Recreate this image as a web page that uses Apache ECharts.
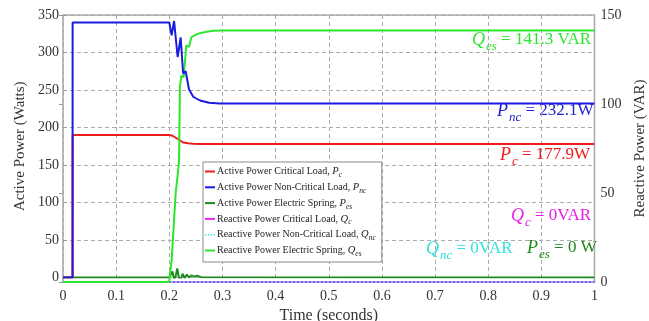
<!DOCTYPE html>
<html>
<head>
<meta charset="utf-8">
<script src="https://cdn.jsdelivr.net/npm/echarts@6/dist/echarts.min.js"></script>
<style>
  html, body { margin: 0; padding: 0; background: #fff; }
  #chart { width: 649px; height: 321px; }
</style>
</head>
<body>
<div id="chart"></div>
<script>
// time (s) and values
const tPc = [0, 0.018, 0.0181, 0.2, 0.206, 0.213, 0.22, 0.226, 0.235, 0.245, 0.26, 1]
const pC  = [0, 0, 190, 190, 189, 186, 183, 180, 179, 178.3, 177.9, 177.9]

const tPnc = [0, 0.018, 0.0181, 0.2, 0.2044, 0.209, 0.2157, 0.2214, 0.226, 0.2308, 0.237, 0.245, 0.2577, 0.275, 0.295, 1]
const pNc  = [0, 0, 340, 340, 323, 342, 294, 320, 272, 275, 251, 241, 236, 233, 232.1, 232.1]

const tPes = [0, 0.2, 0.203, 0.206, 0.209, 0.212, 0.215, 0.218, 0.221, 0.225, 0.229, 0.233, 0.237, 0.242, 0.247, 0.252, 0.26, 1]
const pEs  = [0, 0, 4, 8, -3, 2, 12, 0, -3, 5, -1, 4, 0, 3, 1, 2.5, 0.5, 0]

const tQc = [0, 1]
const qC  = [0, 0]
const tQnc = [0, 1]
const qNc  = [0, 0]

const tQes = [0, 0.2, 0.2013, 0.2044, 0.208, 0.212, 0.2165, 0.2183, 0.22, 0.2228, 0.227, 0.232, 0.237, 0.2415, 0.25, 0.2577, 0.27, 0.2827, 0.3, 1]
const qEs  = [0, 0, 5, 12, 30, 50, 62, 68, 110, 116, 115, 133, 132, 137.5, 139, 139.8, 140.6, 141.1, 141.3, 141.3]

const xTicks = [0, 0.1, 0.2, 0.3, 0.4, 0.5, 0.6, 0.7, 0.8, 0.9, 1]
const leftTicks = [0, 50, 100, 150, 200, 250, 300, 350]
const rightTicks = [0, 50, 100, 150]

const names = [
  ['Active Power Critical Load, ', 'P', 'c'],
  ['Active Power Non-Critical Load, ', 'P', 'nc'],
  ['Active Power Electric Spring, ', 'P', 'es'],
  ['Reactive Power Critical Load, ', 'Q', 'c'],
  ['Reactive Power Non-Critical Load, ', 'Q', 'nc'],
  ['Reactive Power Electric Spring, ', 'Q', 'es']
]
const legendNames = names.map(n => n.join(''))

function pairs(t, v) {
  return t.map((x, i) => [x, v[i]])
}

const font = '"Liberation Serif", "DejaVu Serif", serif'
const myChart = echarts.init(document.getElementById('chart'))

function line(i, t, v, color, yIdx, extra) {
  return Object.assign({
    name: legendNames[i],
    type: 'line',
    xAxisIndex: yIdx,
    yAxisIndex: yIdx,
    data: pairs(t, v),
    symbol: 'none',
    animation: false,
    lineStyle: { color: color, width: 2 },
    itemStyle: { color: color }
  }, extra || {})
}

function note(text, x, y, color) {
  return {
    type: 'text',
    left: x,
    top: y,
    style: {
      text: text,
      fill: color,
      font: '17px ' + font,
      rich: {
        i: { fontFamily: font, fontSize: 18, fontStyle: 'italic', fill: color },
        s: { fontFamily: font, fontSize: 13, fontStyle: 'italic', fill: color, padding: [14, 0, 0, 1] },
        n: { fontFamily: font, fontSize: 17, fill: color }
      }
    }
  }
}

const dotted = 'path://M0,0h2v2h-2zM4,0h2v2h-2zM8,0h2v2h-2zM12,0h2v2h-2z'

myChart.setOption({
  backgroundColor: '#fff',
  grid: [
    { left: 63, right: 54.5, top: 15, bottom: 43.5, show: false, outerBoundsMode: 'none', containLabel: false },
    { left: 63, right: 54.5, top: 15, bottom: 39, show: true, borderColor: '#a8a8a8', borderWidth: 1.5, outerBoundsMode: 'none', containLabel: false }
  ],
  legend: {
    orient: 'vertical',
    left: 203,
    top: 162,
    data: legendNames.map((n, i) => ({ name: n, icon: i === 4 ? dotted : 'rect' })),
    backgroundColor: '#fff',
    borderColor: '#8a8a8a',
    borderWidth: 1,
    padding: [4, 6, 4, 2],
    itemWidth: 10,
    itemHeight: 2,
    itemGap: 2.8,
    formatter: name => {
      const n = names[legendNames.indexOf(name)]
      return '{t|' + n[0] + '}{i|' + n[1] + '}{s|' + n[2] + '}'
    },
    textStyle: {
      padding: [0, 0, 0, -3],
      rich: {
        t: { fontFamily: font, fontSize: 10, color: '#222', lineHeight: 14 },
        i: { fontFamily: font, fontSize: 10.5, fontStyle: 'italic', color: '#222' },
        s: { fontFamily: font, fontSize: 7.5, fontStyle: 'italic', color: '#222', padding: [7, 0, 0, 0] }
      }
    }
  },
  xAxis: [
    { gridIndex: 0, type: 'value', min: 0, max: 1, show: false },
    {
      gridIndex: 1, type: 'value', min: 0, max: 1, interval: 0.1,
      name: 'Time (seconds)', nameLocation: 'middle', nameGap: 19,
      nameTextStyle: { fontFamily: font, fontSize: 16, color: '#333' },
      axisLine: { show: false },
      axisTick: { show: false },
      axisLabel: { fontFamily: font, fontSize: 14, color: '#333', margin: 7,
        formatter: v => xTicks.find(x => Math.abs(x - v) < 1e-6).toString() },
      splitLine: { show: true, lineStyle: { color: '#aaa', type: [4, 3], width: 1 } }
    }
  ],
  yAxis: [
    {
      gridIndex: 0, type: 'value', min: 0, max: 350, interval: 50,
      name: 'Active Power (Watts)', nameLocation: 'middle', nameGap: 34,
      nameTextStyle: { fontFamily: font, fontSize: 15, color: '#333' },
      axisLine: { show: false },
      axisTick: { show: true, inside: true, length: 4, lineStyle: { color: '#999' } },
      axisLabel: { fontFamily: font, fontSize: 14, color: '#333', margin: 4,
        formatter: v => leftTicks.includes(v) ? String(v) : '' },
      splitLine: { show: true, lineStyle: { color: '#aaa', type: [4, 3], width: 1 } }
    },
    {
      gridIndex: 1, type: 'value', position: 'right', min: 0, max: 150, interval: 50,
      name: 'Reactive Power (VAR)', nameLocation: 'middle', nameGap: 31,
      nameTextStyle: { fontFamily: font, fontSize: 15, color: '#333' },
      axisLine: { show: false },
      axisTick: { show: true, inside: true, length: 4, lineStyle: { color: '#999' } },
      axisLabel: { fontFamily: font, fontSize: 14, color: '#333', margin: 6,
        formatter: v => rightTicks.includes(v) ? String(v) : '' },
      splitLine: { show: false }
    }
  ],
  series: [
    line(3, tQc, qC, '#f020f0', 1),
    line(4, tQnc, qNc, '#33eaea', 1, { lineStyle: { color: '#33eaea', width: 2, type: [2, 2] } }),
    line(2, tPes, pEs, '#1d8a1d', 0),
    line(0, tPc, pC, '#ee1c1c', 0),
    line(5, tQes, qEs, '#2ee52e', 1),
    line(1, tPnc, pNc, '#1a1ae0', 0)
  ],
  graphic: [
    note('{i|Q}{s|es}{n| = 141.3 VAR}', 472, 31, '#2ee52e'),
    note('{i|P}{s|nc}{n| = 232.1W}', 497, 102, '#2222cc'),
    note('{i|P}{s|c}{n| = 177.9W}', 500, 146, '#ee1c1c'),
    note('{i|Q}{s|c}{n| = 0VAR}', 511, 207, '#e81ee8'),
    note('{i|Q}{s|nc}{n| = 0VAR}', 426, 240, '#33e0e0'),
    note('{i|P}{s|es}{n| = 0 W}', 527, 239, '#1d8a1d')
  ]
})
</script>
</body>
</html>
